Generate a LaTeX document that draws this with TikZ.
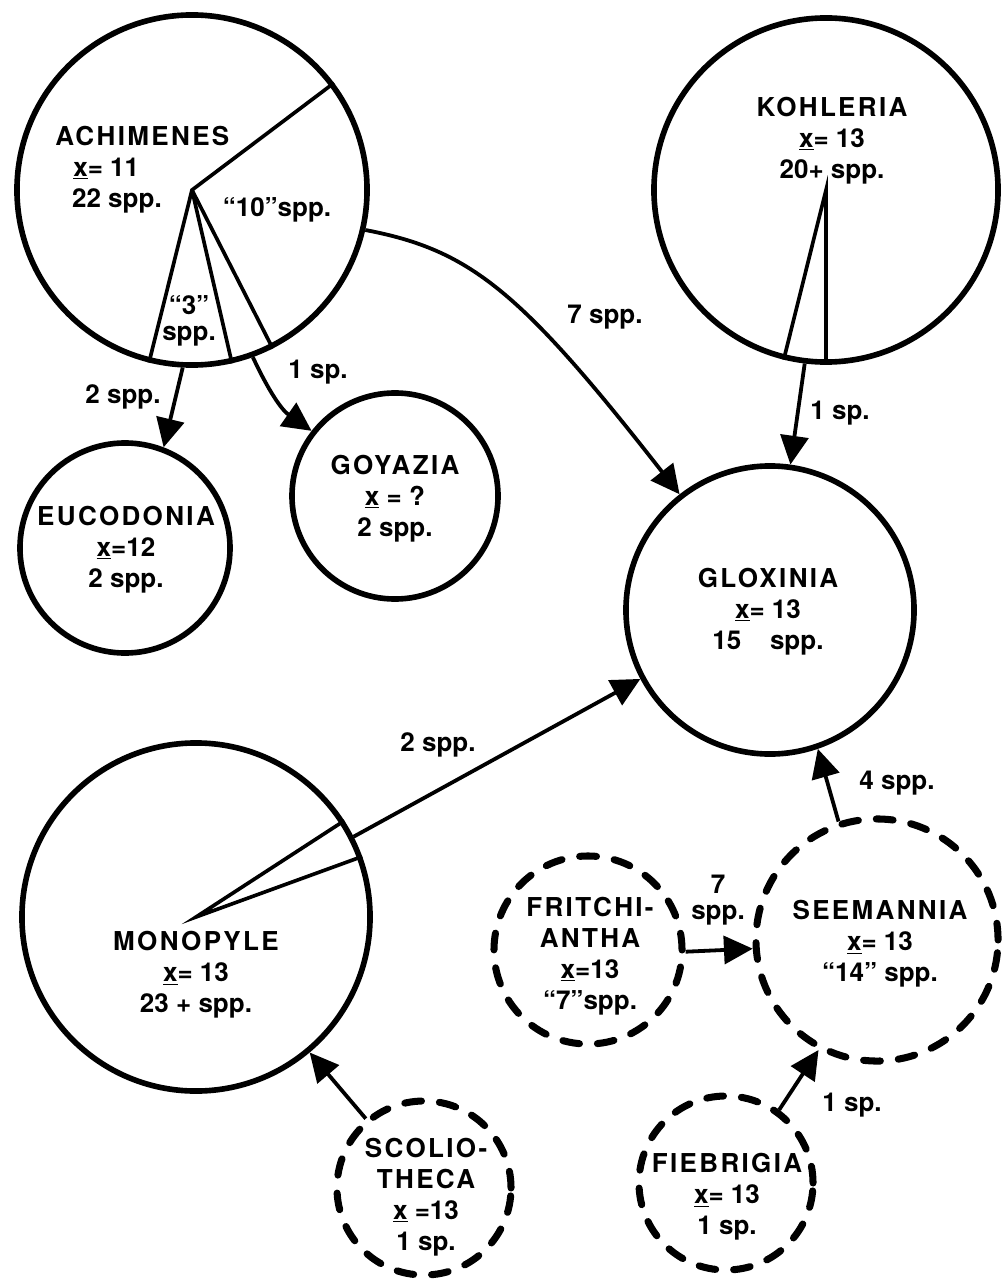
\documentclass[tikz,border=0pt]{standalone}
\usepackage{fontspec}
\setmainfont{TeX Gyre Heros}
\usetikzlibrary{arrows.meta,positioning}
\tikzset{
  genus/.style={circle, draw, line width=4pt, inner sep=0pt},
  dashgenus/.style={genus, line width=5pt, line cap=round, dash pattern=on 0.42cm off 0.45cm},
  gtext/.style={font=\bfseries\fontsize{18.5}{22}\selectfont, align=center, inner sep=0pt},
  spoke/.style={line width=2.6pt},
  flow/.style={line width=2.7pt, -{Triangle[length=0.72cm,width=0.7cm]}},
}
\newcommand{\gname}[1]{{\addfontfeature{LetterSpace=9}#1}}

\begin{document}
\begin{tikzpicture}[x=0.025cm, y=-0.025cm]
	\useasboundingbox (0,0) rectangle (1007,1279);
	% solid circles
	\node[genus, minimum size=8.75cm] (ach) at (192,190) {};
	\node[genus, minimum size=8.6cm] (koh) at (826,190) {};
	\node[genus, minimum size=7.2cm] (glo) at (770,610) {};
	\node[genus, minimum size=5.25cm] (euc) at (125,548) {};
	\node[genus, minimum size=5.15cm] (goy) at (395,496) {};
	\node[genus, minimum size=8.7cm] (mon) at (196,917) {};
	% dashed circles
	\node[dashgenus, minimum size=6.05cm] (see) at (877,940) {};
	\node[dashgenus, minimum size=4.7cm] (fri) at (588,950) {};
	\node[dashgenus, minimum size=4.35cm] (fie) at (726,1183) {};
	\node[dashgenus, minimum size=4.35cm] (sco) at (424,1188) {};
	% wedges
	\draw[spoke] (ach.37.3) -- (ach.center) -- (ach.-104.8);
	\draw[spoke] (ach.center) -- (ach.-77.5);
	\draw[spoke] (ach.center) -- (ach.-63.3);
	\draw[spoke] (koh.-104.4) -- (koh.center) -- (koh.-90.7);
	\draw[spoke] (mon.33.1) -- (mon.center) -- (mon.20.9);
	% texts
	\node[gtext, align=left, anchor=west] (achtxt) at (55,170) {\gname{ACHIMENES}\\\hspace*{0.45cm}\underline{x}= 11\\\hspace*{0.42cm}22 spp.};
	\node[gtext] (ach10) at (277,210) {“10”spp.};
	\node[gtext] (ach3) at (189,321) {“3”\\[-4pt]spp.};
	\node[gtext] (kohtxt) at (832,141) {\gname{KOHLERIA}\\\underline{x}= 13\\20+ spp.};
	\node[gtext] (glotxt) at (768,612) {\gname{GLOXINIA}\\\underline{x}= 13\\15\hspace{1.1em}spp.};
	\node[gtext] (euctxt) at (126,550) {\gname{EUCODONIA}\\\underline{x}=12\\2 spp.};
	\node[gtext] (goytxt) at (395,499) {\gname{GOYAZIA}\\\underline{x} = ?\\2 spp.};
	\node[gtext] (montxt) at (196,975) {\gname{MONOPYLE}\\\underline{x}= 13\\23 + spp.};
	\node[gtext] (seetxt) at (880,944) {\gname{SEEMANNIA}\\\underline{x}= 13\\“14” spp.};
	\node[gtext] (fritxt) at (590,956) {\gname{FRITCHI-}\\\gname{ANTHA}\\\underline{x}=13\\“7”spp.};
	\node[gtext] (fietxt) at (727,1197) {\gname{FIEBRIGIA}\\\underline{x}= 13\\1 sp.};
	\node[gtext] (scotxt) at (426,1197) {\gname{SCOLIO-}\\\gname{THECA}\\\underline{x} =13\\1 sp.};
	% connectors
	\draw[flow] (ach.-13.4) .. controls (470,250) and (520,290) .. (glo.128);
	\draw[flow] (ach.-93) -- (euc.69.4);
	\draw[flow] (ach.-70.5) to[out=-65,in=145] (goy.142);
	\draw[flow] (koh.-97.7) -- (glo.82);
	\draw[flow] (mon.27.8) -- (glo.208);
	\draw[flow] (see.108.3) -- (glo.-71.7);
	\draw[flow] (fri.-1) -- (see.184);
	\draw[flow] (fie.54.5) -- (see.-118);
	\draw[flow] (sco.130) -- (mon.-50.3);
	% connector labels
	\node[gtext] (l2euc) at (123,397) {2 spp.};
	\node[gtext] (l1goy) at (318,372) {1 sp.};
	\node[gtext] (l7glo) at (605,317) {7 spp.};
	\node[gtext] (l1koh) at (840,413) {1 sp.};
	\node[gtext] (l2mon) at (438,745) {2 spp.};
	\node[gtext] (l4see) at (897,783) {4 spp.};
	\node[gtext] (l7fri) at (718,900) {7\\[-3.5pt]spp.};
	\node[gtext] (l1fie) at (852,1105) {1 sp.};
\end{tikzpicture}
\end{document}
